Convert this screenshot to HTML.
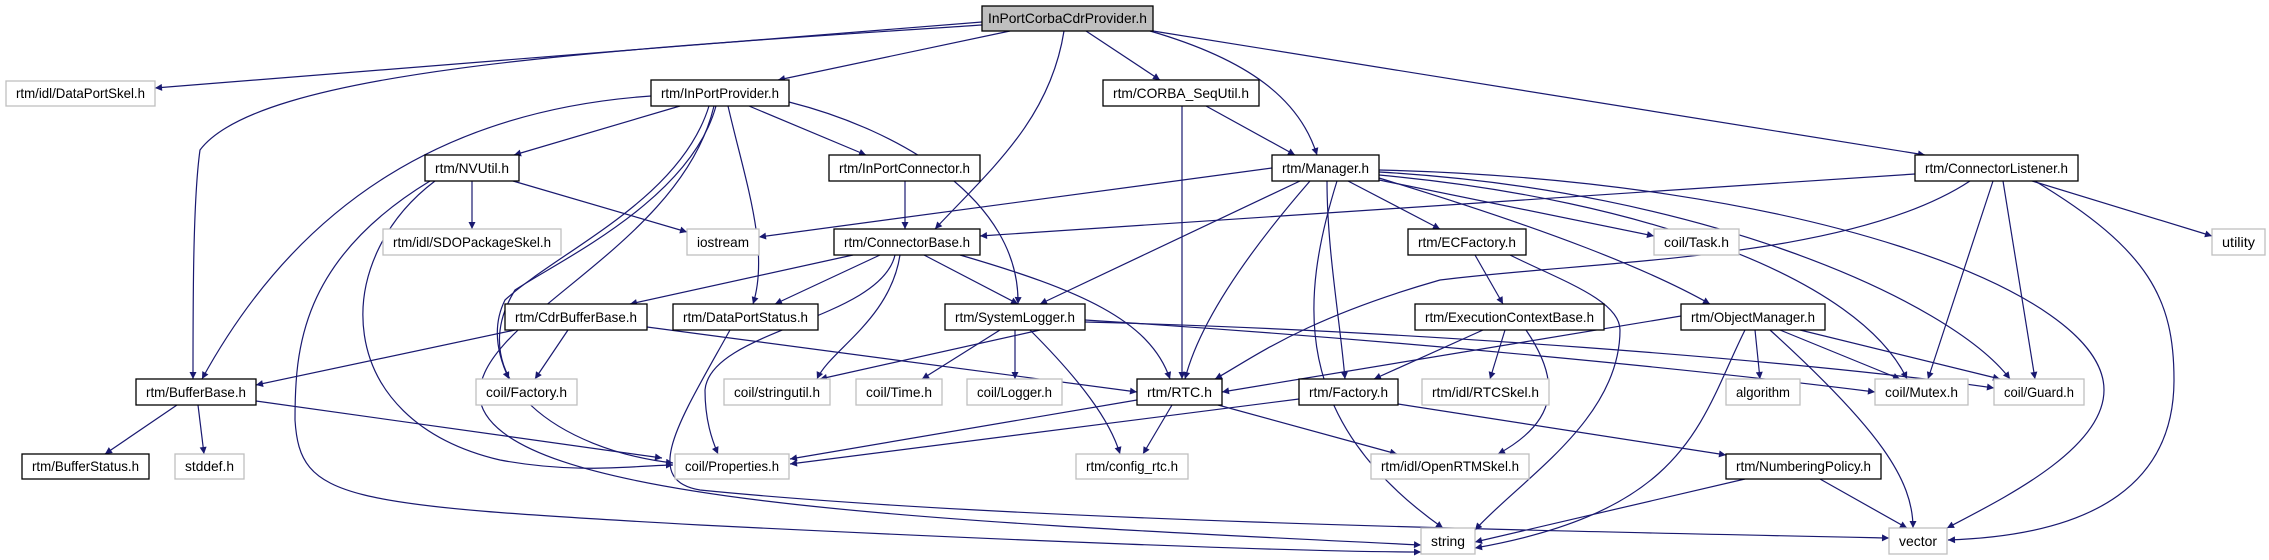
<!DOCTYPE html>
<html><head><meta charset="utf-8"><style>
html,body{margin:0;padding:0;background:#fff;}
svg{display:block;}
text{font-family:"Liberation Sans",sans-serif;font-size:14px;fill:#000;}
.e{fill:none;stroke:#191970;stroke-width:1.2;marker-end:url(#a);}
.n{fill:#fff;stroke:#000;stroke-width:1.3;}
.g{fill:#fff;stroke:#bfbfbf;stroke-width:1.3;}
</style></head><body>
<svg width="2269" height="560" viewBox="0 0 2269 560" xmlns="http://www.w3.org/2000/svg">
<defs><marker id="a" viewBox="0 0 10 10" refX="10" refY="5" markerWidth="9" markerHeight="7" markerUnits="userSpaceOnUse" orient="auto"><path d="M0,0L10,5L0,10z" fill="#191970"/></marker></defs>
<g>
<path class="e" d="M982,22 L155,88"/>
<path class="e" d="M982,25 C600,50 260,70 200,150 C193,200 193,300 193,379"/>
<path class="e" d="M1010,31 L778,80"/>
<path class="e" d="M1064,31 C1050,120 990,170 935,229"/>
<path class="e" d="M1086,31 L1160,80"/>
<path class="e" d="M1150,31 C1250,60 1300,100 1317,155"/>
<path class="e" d="M1153,31 L1925,155"/>
<path class="e" d="M680,106 L514,155"/>
<path class="e" d="M749,106 L866,155"/>
<path class="e" d="M651,96 C450,110 300,200 202,379"/>
<path class="e" d="M709,106 C680,200 560,250 505,300 C490,330 500,360 509,379"/>
<path class="e" d="M716,106 C690,200 560,260 515,290 C460,380 560,450 673,463"/>
<path class="e" d="M728,106 C745,180 770,250 753,304"/>
<path class="e" d="M789,102 C900,130 1020,200 1018,304"/>
<path class="e" d="M714,106 C680,250 470,320 480,400 C500,500 900,520 1421,545"/>
<path class="e" d="M472,181 L472,229"/>
<path class="e" d="M513,181 L687,232"/>
<path class="e" d="M435,181 C330,260 330,420 500,460 C580,475 640,465 673,465"/>
<path class="e" d="M430,181 C300,260 295,350 295,420 C300,500 340,505 700,525 C1000,540 1300,552 1421,552"/>
<path class="e" d="M905,181 L905,229"/>
<path class="e" d="M853,255 L630,304"/>
<path class="e" d="M880,255 L775,304"/>
<path class="e" d="M924,255 L1018,304"/>
<path class="e" d="M960,255 C1080,290 1150,320 1170,379"/>
<path class="e" d="M900,255 C890,320 830,350 817,379"/>
<path class="e" d="M895,255 C880,320 710,330 705,390 C705,420 712,440 718,454"/>
<path class="e" d="M1272,168 L759,237"/>
<path class="e" d="M1300,181 L1040,304"/>
<path class="e" d="M1310,181 C1250,250 1200,320 1185,379"/>
<path class="e" d="M1327,181 C1327,250 1340,320 1345,379"/>
<path class="e" d="M1337,181 C1300,300 1290,420 1443,528"/>
<path class="e" d="M1348,181 L1440,229"/>
<path class="e" d="M1379,180 L1654,236"/>
<path class="e" d="M1379,178 C1550,230 1650,270 1710,304"/>
<path class="e" d="M1379,175 C1650,200 1860,280 1907,379"/>
<path class="e" d="M1379,172 C1700,190 1950,300 2010,379"/>
<path class="e" d="M1379,170 C1800,180 2104,290 2104,390 C2104,450 2000,500 1947,528"/>
<path class="e" d="M1182,106 L1182,379"/>
<path class="e" d="M1206,106 L1295,155"/>
<path class="e" d="M1915,174 L980,236"/>
<path class="e" d="M1970,181 C1850,260 1600,260 1440,280 C1300,320 1250,360 1215,379"/>
<path class="e" d="M1993,181 L1928,379"/>
<path class="e" d="M2003,181 L2035,379"/>
<path class="e" d="M2035,181 C2150,250 2174,300 2174,380 C2174,480 2100,535 1948,540"/>
<path class="e" d="M2032,181 L2212,236"/>
<path class="e" d="M1475,255 L1503,304"/>
<path class="e" d="M1510,255 C1560,280 1620,300 1620,330 C1620,420 1520,480 1475,530"/>
<path class="e" d="M1483,330 L1374,379"/>
<path class="e" d="M1505,330 L1490,379"/>
<path class="e" d="M1526,330 C1560,380 1560,420 1498,454"/>
<path class="e" d="M1681,316 L1222,392"/>
<path class="e" d="M1755,330 L1760,379"/>
<path class="e" d="M1780,330 L1900,379"/>
<path class="e" d="M1800,330 L2000,379"/>
<path class="e" d="M1745,330 C1700,420 1690,510 1475,548"/>
<path class="e" d="M1770,330 C1880,430 1913,480 1913,528"/>
<path class="e" d="M1040,330 L820,379"/>
<path class="e" d="M1000,330 L922,379"/>
<path class="e" d="M1015,330 L1015,379"/>
<path class="e" d="M1030,330 C1080,380 1110,420 1120,454"/>
<path class="e" d="M1085,320 C1400,340 1700,370 1875,392"/>
<path class="e" d="M1085,322 C1400,330 1800,360 1994,388"/>
<path class="e" d="M515,330 L256,385"/>
<path class="e" d="M568,330 L535,379"/>
<path class="e" d="M647,327 L1137,392"/>
<path class="e" d="M730,330 C680,420 640,480 700,490 C1000,520 1500,530 1889,538"/>
<path class="e" d="M177,405 L105,454"/>
<path class="e" d="M198,405 L204,454"/>
<path class="e" d="M256,401 L662,458"/>
<path class="e" d="M1137,400 L790,459"/>
<path class="e" d="M1172,405 L1143,454"/>
<path class="e" d="M1218,405 L1397,454"/>
<path class="e" d="M1299,399 L790,464"/>
<path class="e" d="M1398,404 L1726,455"/>
<path class="e" d="M1745,479 L1475,542"/>
<path class="e" d="M1820,479 L1907,528"/>
</g>
<g>
<rect x="982" y="6" width="171" height="25" fill="#bfbfbf" stroke="#000" stroke-width="1.3"/><text x="1067.5" y="23" text-anchor="middle" textLength="159" lengthAdjust="spacingAndGlyphs">InPortCorbaCdrProvider.h</text>
<rect class="g" x="6" y="81" width="149" height="25"/><text x="80.5" y="98" text-anchor="middle" textLength="129" lengthAdjust="spacingAndGlyphs">rtm/idl/DataPortSkel.h</text>
<rect class="n" x="651" y="80" width="138" height="26"/><text x="720" y="98" text-anchor="middle" textLength="118" lengthAdjust="spacingAndGlyphs">rtm/InPortProvider.h</text>
<rect class="n" x="1103" y="80" width="156" height="26"/><text x="1181" y="98" text-anchor="middle" textLength="136" lengthAdjust="spacingAndGlyphs">rtm/CORBA_SeqUtil.h</text>
<rect class="n" x="425" y="155" width="94" height="26"/><text x="472" y="173" text-anchor="middle" textLength="74" lengthAdjust="spacingAndGlyphs">rtm/NVUtil.h</text>
<rect class="n" x="829" y="155" width="151" height="26"/><text x="904.5" y="173" text-anchor="middle" textLength="131" lengthAdjust="spacingAndGlyphs">rtm/InPortConnector.h</text>
<rect class="n" x="1272" y="155" width="107" height="26"/><text x="1325.5" y="173" text-anchor="middle" textLength="87" lengthAdjust="spacingAndGlyphs">rtm/Manager.h</text>
<rect class="n" x="1915" y="155" width="163" height="26"/><text x="1996.5" y="173" text-anchor="middle" textLength="143" lengthAdjust="spacingAndGlyphs">rtm/ConnectorListener.h</text>
<rect class="g" x="383" y="229" width="178" height="26"/><text x="472" y="247" text-anchor="middle" textLength="158" lengthAdjust="spacingAndGlyphs">rtm/idl/SDOPackageSkel.h</text>
<rect class="g" x="687" y="229" width="72" height="26"/><text x="723" y="247" text-anchor="middle" textLength="52" lengthAdjust="spacingAndGlyphs">iostream</text>
<rect class="n" x="834" y="229" width="146" height="26"/><text x="907" y="247" text-anchor="middle" textLength="126" lengthAdjust="spacingAndGlyphs">rtm/ConnectorBase.h</text>
<rect class="n" x="1408" y="229" width="118" height="26"/><text x="1467" y="247" text-anchor="middle" textLength="98" lengthAdjust="spacingAndGlyphs">rtm/ECFactory.h</text>
<rect class="g" x="1654" y="229" width="85" height="26"/><text x="1696.5" y="247" text-anchor="middle" textLength="65" lengthAdjust="spacingAndGlyphs">coil/Task.h</text>
<rect class="g" x="2212" y="229" width="53" height="26"/><text x="2238.5" y="247" text-anchor="middle" textLength="33" lengthAdjust="spacingAndGlyphs">utility</text>
<rect class="n" x="505" y="304" width="142" height="26"/><text x="576" y="322" text-anchor="middle" textLength="122" lengthAdjust="spacingAndGlyphs">rtm/CdrBufferBase.h</text>
<rect class="n" x="673" y="304" width="145" height="26"/><text x="745.5" y="322" text-anchor="middle" textLength="125" lengthAdjust="spacingAndGlyphs">rtm/DataPortStatus.h</text>
<rect class="n" x="945" y="304" width="140" height="26"/><text x="1015" y="322" text-anchor="middle" textLength="120" lengthAdjust="spacingAndGlyphs">rtm/SystemLogger.h</text>
<rect class="n" x="1415" y="304" width="189" height="26"/><text x="1509.5" y="322" text-anchor="middle" textLength="169" lengthAdjust="spacingAndGlyphs">rtm/ExecutionContextBase.h</text>
<rect class="n" x="1681" y="304" width="144" height="26"/><text x="1753" y="322" text-anchor="middle" textLength="124" lengthAdjust="spacingAndGlyphs">rtm/ObjectManager.h</text>
<rect class="n" x="136" y="379" width="120" height="26"/><text x="196" y="397" text-anchor="middle" textLength="100" lengthAdjust="spacingAndGlyphs">rtm/BufferBase.h</text>
<rect class="g" x="476" y="379" width="101" height="26"/><text x="526.5" y="397" text-anchor="middle" textLength="81" lengthAdjust="spacingAndGlyphs">coil/Factory.h</text>
<rect class="g" x="724" y="379" width="106" height="26"/><text x="777" y="397" text-anchor="middle" textLength="86" lengthAdjust="spacingAndGlyphs">coil/stringutil.h</text>
<rect class="g" x="856" y="379" width="86" height="26"/><text x="899" y="397" text-anchor="middle" textLength="66" lengthAdjust="spacingAndGlyphs">coil/Time.h</text>
<rect class="g" x="967" y="379" width="95" height="26"/><text x="1014.5" y="397" text-anchor="middle" textLength="75" lengthAdjust="spacingAndGlyphs">coil/Logger.h</text>
<rect class="n" x="1137" y="379" width="85" height="26"/><text x="1179.5" y="397" text-anchor="middle" textLength="65" lengthAdjust="spacingAndGlyphs">rtm/RTC.h</text>
<rect class="n" x="1299" y="379" width="99" height="26"/><text x="1348.5" y="397" text-anchor="middle" textLength="79" lengthAdjust="spacingAndGlyphs">rtm/Factory.h</text>
<rect class="g" x="1422" y="379" width="127" height="26"/><text x="1485.5" y="397" text-anchor="middle" textLength="107" lengthAdjust="spacingAndGlyphs">rtm/idl/RTCSkel.h</text>
<rect class="g" x="1726" y="379" width="74" height="26"/><text x="1763" y="397" text-anchor="middle" textLength="54" lengthAdjust="spacingAndGlyphs">algorithm</text>
<rect class="g" x="1875" y="379" width="93" height="26"/><text x="1921.5" y="397" text-anchor="middle" textLength="73" lengthAdjust="spacingAndGlyphs">coil/Mutex.h</text>
<rect class="g" x="1994" y="379" width="90" height="26"/><text x="2039" y="397" text-anchor="middle" textLength="70" lengthAdjust="spacingAndGlyphs">coil/Guard.h</text>
<rect class="n" x="22" y="454" width="127" height="25"/><text x="85.5" y="471" text-anchor="middle" textLength="107" lengthAdjust="spacingAndGlyphs">rtm/BufferStatus.h</text>
<rect class="g" x="175" y="454" width="69" height="25"/><text x="209.5" y="471" text-anchor="middle" textLength="49" lengthAdjust="spacingAndGlyphs">stddef.h</text>
<rect class="g" x="675" y="454" width="114" height="25"/><text x="732" y="471" text-anchor="middle" textLength="94" lengthAdjust="spacingAndGlyphs">coil/Properties.h</text>
<rect class="g" x="1076" y="454" width="112" height="25"/><text x="1132" y="471" text-anchor="middle" textLength="92" lengthAdjust="spacingAndGlyphs">rtm/config_rtc.h</text>
<rect class="g" x="1371" y="454" width="158" height="25"/><text x="1450" y="471" text-anchor="middle" textLength="138" lengthAdjust="spacingAndGlyphs">rtm/idl/OpenRTMSkel.h</text>
<rect class="n" x="1726" y="454" width="155" height="25"/><text x="1803.5" y="471" text-anchor="middle" textLength="135" lengthAdjust="spacingAndGlyphs">rtm/NumberingPolicy.h</text>
<rect class="g" x="1421" y="528" width="54" height="26"/><text x="1448" y="546" text-anchor="middle" textLength="34" lengthAdjust="spacingAndGlyphs">string</text>
<rect class="g" x="1889" y="528" width="58" height="26"/><text x="1918" y="546" text-anchor="middle" textLength="38" lengthAdjust="spacingAndGlyphs">vector</text>
</g>
</svg>
</body></html>
